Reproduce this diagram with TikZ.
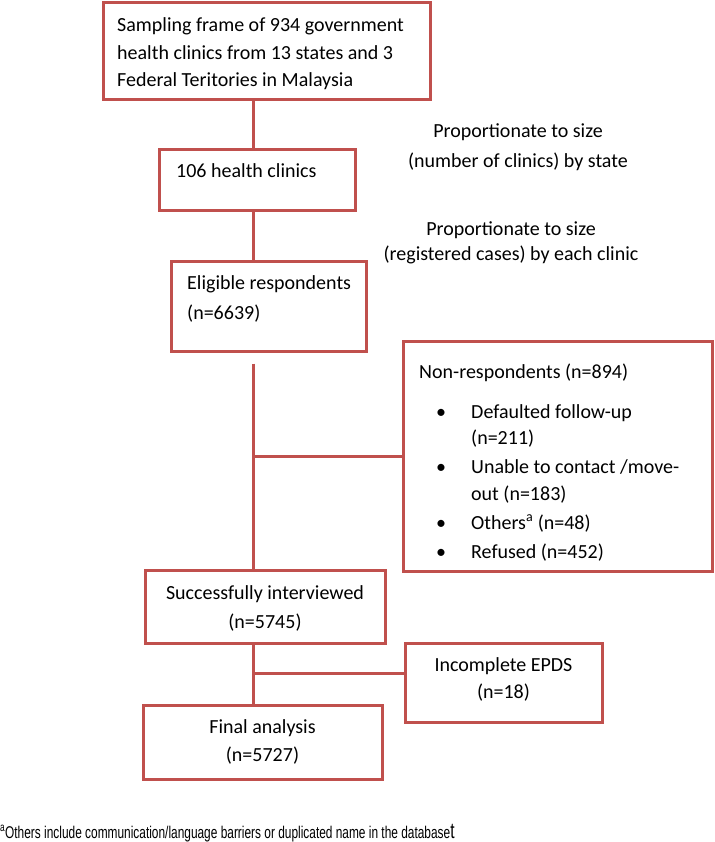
\documentclass[tikz,border=0pt]{standalone}
\usepackage{fontspec}
\setmainfont{Carlito}
\newfontfamily\arialfont{Liberation Sans}
\definecolor{boxred}{HTML}{C0504D}
\begin{document}
\begin{tikzpicture}[x=1pt,y=-1pt,
  box/.style={draw=boxred, line width=3pt, inner sep=0pt},
  conn/.style={draw=boxred, line width=3pt},
  txt/.style={inner sep=0pt, font=\fontsize{20}{24}\selectfont, anchor=base west},
  ctxt/.style={inner sep=0pt, font=\fontsize{20}{24}\selectfont, anchor=base},
  bul/.style={inner sep=0pt, font=\fontsize{20}{24}\selectfont, anchor=base},
]
\useasboundingbox[fill=white] (0,0) rectangle (714,842);
% boxes
\node[box, minimum width=327pt, minimum height=97pt] (b1) at (266.5,51.5) {};
\node[box, minimum width=196pt, minimum height=61pt] (b2) at (257,180.5) {};
\node[box, minimum width=195pt, minimum height=90pt] (b3) at (268.5,306) {};
\node[box, minimum width=309pt, minimum height=230pt] (nr) at (557.5,456) {};
\node[box, minimum width=240pt, minimum height=73pt] (su) at (265,606.5) {};
\node[box, minimum width=197pt, minimum height=79pt] (inc) at (503.5,682.5) {};
\node[box, minimum width=239pt, minimum height=74pt] (fi) at (262.5,742) {};
% connectors
\coordinate (sp) at (253.5,0);
\coordinate (b3s) at ([yshift=-11pt]b3.south);
\coordinate (incw) at ([yshift=9.5pt]inc.west);
\draw[conn] (b1.south -| sp) -- (b2.north -| sp);
\draw[conn] (b2.south -| sp) -- (b3.north -| sp);
\draw[conn] (b3s -| sp) -- (su.north -| sp);
\draw[conn] (nr.west) -- (nr.west -| sp);
\draw[conn] (su.south -| sp) -- (fi.north -| sp);
\draw[conn] (incw) -- (incw -| sp);
% box texts
\node[txt] (t1a) at (117,31.5) {Sampling frame of 934 government};
\node[txt] (t1b) at (117,59.5) {health clinics from 13 states and 3};
\node[txt] (t1c) at (117,86.5) {Federal Teritories in Malaysia};
\node[txt] (t2) at (176,177.5) {106 health clinics};
\node[txt] (t3a) at (187,289.5) {Eligible respondents};
\node[txt] (t3b) at (187,319.5) {(n=6639)};
\node[txt] (n0) at (419,378.5) {Non-respondents (n=894)};
\node[bul] (d1) at (441,418.5) {•};
\node[txt] (n1) at (471,418.5) {Defaulted follow-up};
\node[txt] (n2) at (471,444.5) {(n=211)};
\node[bul] (d2) at (441,473.5) {•};
\node[txt] (n3) at (471,473.5) {Unable to contact /move-};
\node[txt] (n4) at (471,500.5) {out (n=183)};
\node[bul] (d3) at (441,529.5) {•};
\node[txt] (n5) at (471,529.5) {Others\textsuperscript{a} (n=48)};
\node[bul] (d4) at (441,558.5) {•};
\node[txt] (n6) at (471,558.5) {Refused (n=452)};
\node[ctxt] (s1) at (265,599.5) {Successfully interviewed};
\node[ctxt] (s2) at (265,628.5) {(n=5745)};
\node[ctxt] (i1) at (503.5,671.5) {Incomplete EPDS};
\node[ctxt] (i2) at (503.5,698.5) {(n=18)};
\node[ctxt] (f1) at (262.5,733.5) {Final analysis};
\node[ctxt] (f2) at (262.5,761.5) {(n=5727)};
% side labels
\node[ctxt] (p1) at (518,137.5) {Proportionate to size};
\node[ctxt] (p2) at (518,167.5) {(number of clinics) by state};
\node[ctxt] (p3) at (511,235.5) {Proportionate to size};
\node[ctxt] (p4) at (511,260.5) {(registered cases) by each clinic};
% footnote
\node[inner sep=0pt, anchor=base west, font=\arialfont\fontsize{17}{19}\selectfont] (fn) at (0,838)
  {\scalebox{0.70}[1]{\textsuperscript{a}Others include communication/language barriers or duplicated name in the database{\fontsize{22}{22}\selectfont t}}};
\end{tikzpicture}
\end{document}
